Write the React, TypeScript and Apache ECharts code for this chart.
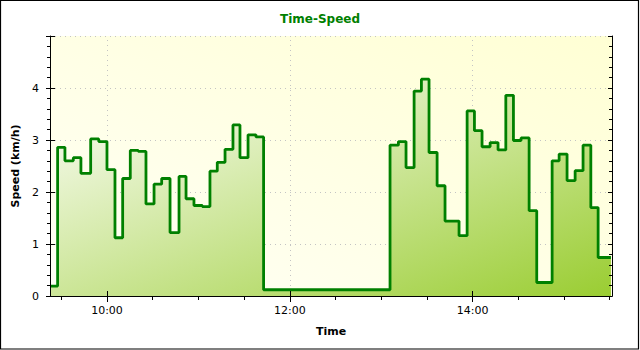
import React, { useEffect, useRef } from "react";
import * as echarts from "echarts";

// Step starts (time of day) and the speed held from that moment on
const stepTimes = [
  "09:22:36", "09:27:36", "09:32:24", "09:37:54", "09:42:54", "09:49:18", "09:54:36",
  "10:00:00", "10:05:15", "10:10:18", "10:15:18", "10:20:33", "10:25:36", "10:30:54",
  "10:35:54", "10:41:24", "10:47:18", "10:51:54", "10:57:06", "11:02:36", "11:07:36",
  "11:12:24", "11:17:30", "11:22:42", "11:27:18", "11:32:36", "11:37:48", "11:42:48",
  "13:05:48", "13:11:18", "13:16:18", "13:21:36", "13:26:24", "13:31:24", "13:36:42",
  "13:41:54", "13:51:06", "13:56:24", "14:01:12", "14:06:12", "14:11:30", "14:16:42",
  "14:21:48", "14:26:48", "14:31:48", "14:37:06", "14:42:06", "14:52:12", "14:56:48",
  "15:02:00", "15:07:18", "15:12:30", "15:17:36", "15:22:24", "15:30:48",
];
const speeds = [
  0.19, 2.86, 2.6, 2.66, 2.36, 3.02, 2.97,
  2.43, 1.12, 2.26, 2.8, 2.78, 1.77, 2.15,
  2.26, 1.22, 2.3, 1.87, 1.74, 1.72, 2.4,
  2.57, 2.82, 3.29, 2.66, 3.1, 3.06, 0.12,
  2.9, 2.97, 2.47, 3.94, 4.17, 2.76, 2.12,
  1.44, 1.16, 3.56, 3.18, 2.87, 2.95, 2.81,
  3.86, 2.99, 3.04, 1.64, 0.26, 2.6, 2.73,
  2.22, 2.41, 2.9, 1.7, 0.74, 0.74,
];

const axisStart = "09:22:36";
const axisEnd = "15:31:30";
const tickTimes = [
  "09:30", "10:00", "10:30", "11:00", "11:30", "12:00", "12:30", "13:00",
  "13:30", "14:00", "14:30", "15:00", "15:30",
];
const labelTimes = ["10:00", "12:00", "14:00"];
const speedMin = 0;
const speedMax = 5;
const speedStep = 1;

const titleText = "Time-Speed";
const xName = "Time";
const yName = "Speed (km/h)";

const FONT = "DejaVu Sans";

function toMin(s: string): number {
  const p = s.split(":").map(Number);
  return p[0] * 60 + p[1] + (p[2] || 0) / 60;
}
function fmt(v: number): string {
  const h = Math.floor(v / 60);
  const m = Math.round(v - h * 60);
  return `${h}:${m < 10 ? "0" + m : m}`;
}

export default function App() {
  const ref = useRef<HTMLDivElement>(null);

  useEffect(() => {
    document.body.style.margin = "0";
    if (!ref.current) return;
    const chart = echarts.init(ref.current, undefined, { renderer: "svg" });

    const xMin = toMin(axisStart);
    const xMax = toMin(axisEnd);
    const ticks = tickTimes.map(toMin);
    const labels = labelTimes.map(toMin);
    const data = stepTimes.map((t, i) => [toMin(t), speeds[i]]);

    const black = "#000";
    const baseX = { type: "value", min: xMin, max: xMax, gridIndex: 0 };
    const baseY = { type: "value", min: speedMin, max: speedMax, interval: speedStep, gridIndex: 0 };
    const dotted = { color: "#c4c4c4", width: 1, type: [1, 4] };

    chart.setOption({
      animation: false,
      title: {
        text: titleText,
        left: "center",
        top: 8,
        textStyle: { color: "#008000", fontWeight: "bold", fontSize: 12, fontFamily: FONT },
      },
      grid: {
        left: 50,
        top: 36,
        width: 562,
        height: 260,
        show: true,
        borderWidth: 0,
        backgroundColor: {
          type: "linear",
          x: 0, y: 1, x2: 1, y2: 0,
          colorStops: [
            { offset: 0, color: "#fffff6" },
            { offset: 1, color: "#ffffd4" },
          ],
        },
      },
      xAxis: [
        {
          ...baseX,
          position: "bottom",
          z: 5,
          axisLine: { show: true, lineStyle: { color: black, width: 1 } },
          axisTick: { show: true, customValues: ticks, length: 4, lineStyle: { color: black } },
          axisLabel: {
            show: true,
            customValues: labels,
            formatter: (v: number) => fmt(v),
            margin: 9,
            color: black,
            fontSize: 11,
            fontFamily: FONT,
          },
          splitLine: { show: false },
          name: xName,
          nameLocation: "middle",
          nameGap: 30,
          nameTextStyle: { color: black, fontWeight: "bold", fontSize: 11, fontFamily: FONT },
        },
        {
          ...baseX,
          position: "bottom",
          z: 5,
          axisLine: { show: false },
          axisTick: { show: true, customValues: labels, inside: true, length: 5, lineStyle: { color: black } },
          axisLabel: { show: false },
          splitLine: { show: false },
        },
        {
          ...baseX,
          position: "top",
          z: 5,
          axisLine: { show: true, lineStyle: { color: black, width: 1 } },
          axisTick: { show: true, customValues: ticks, inside: true, length: 3, lineStyle: { color: black } },
          axisLabel: { show: false },
          splitLine: { show: false },
        },
        {
          ...baseX,
          position: "top",
          z: 5,
          axisLine: { show: false },
          axisTick: { show: true, customValues: labels, inside: true, length: 6, lineStyle: { color: black } },
          axisLabel: { show: false },
          splitLine: { show: false },
        },
      ],
      yAxis: [
        {
          ...baseY,
          position: "left",
          z: 5,
          axisLine: { show: true, lineStyle: { color: black, width: 1 } },
          axisTick: { show: true, length: 4, lineStyle: { color: black } },
          minorTick: { show: true, splitNumber: 5, length: 3, lineStyle: { color: black } },
          axisLabel: {
            show: true,
            showMaxLabel: false,
            margin: 11,
            color: black,
            fontSize: 11,
            fontFamily: FONT,
          },
          splitLine: { show: false },
          name: yName,
          nameLocation: "middle",
          nameGap: 27,
          nameTextStyle: { color: black, fontWeight: "bold", fontSize: 11, fontFamily: FONT },
        },
        {
          ...baseY,
          position: "left",
          z: 5,
          axisLine: { show: false },
          axisTick: { show: true, inside: true, length: 5, lineStyle: { color: black } },
          axisLabel: { show: false },
          splitLine: { show: false },
        },
        {
          ...baseY,
          position: "right",
          z: 5,
          axisLine: { show: true, lineStyle: { color: black, width: 1 } },
          axisTick: { show: true, inside: true, length: 4, lineStyle: { color: black } },
          minorTick: { show: true, splitNumber: 5, length: 3, lineStyle: { color: black } },
          axisLabel: { show: false },
          splitLine: { show: false },
        },
        {
          ...baseY,
          position: "left",
          axisLine: { show: false },
          axisTick: { show: false },
          axisLabel: { show: false },
          splitLine: { show: true, lineStyle: dotted },
        },
      ],
      series: [
        {
          type: "line",
          xAxisIndex: 0,
          yAxisIndex: 0,
          data: [],
          z: 1,
          markLine: {
            z: 1,
            silent: true,
            symbol: "none",
            label: { show: false },
            lineStyle: dotted,
            data: labels.map((v) => ({ xAxis: v })),
          },
        },
        {
          type: "line",
          xAxisIndex: 0,
          yAxisIndex: 0,
          step: "end",
          symbol: "none",
          z: 2,
          data,
          lineStyle: { color: "#008000", width: 2.8 },
          areaStyle: {
            opacity: 1,
            color: {
              type: "linear",
              x: 0, y: 0, x2: 1, y2: 1,
              colorStops: [
                { offset: 0, color: "#ffffff" },
                { offset: 1, color: "#9acd32" },
              ],
            },
          },
        },
      ],
      graphic: [
        {
          type: "rect",
          shape: { x: 0.5, y: 0.5, width: 638, height: 348.5 },
          style: { fill: "none", stroke: "#000", lineWidth: 1.2 },
          silent: true,
        },
      ],
    });

    return () => chart.dispose();
  }, []);

  return <div ref={ref} style={{ width: 640, height: 350 }} />;
}
